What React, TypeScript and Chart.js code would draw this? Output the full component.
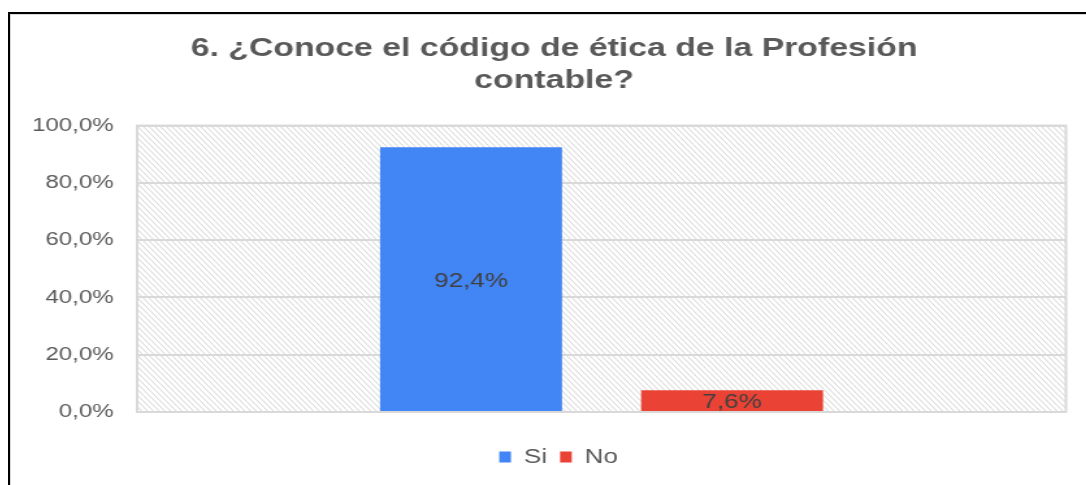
import React, { useEffect, useRef } from "react";
import { Chart, registerables } from "chart.js";

Chart.register(...registerables);

// ---- data ----
const categories = ["Profesión contable"];
const seriesNames = ["Si", "No"];
const siValues = [92.4];
const noValues = [7.6];
const seriesColors = ["#4285F4", "#EA4335"];
const yTickValues = [0, 20, 40, 60, 80, 100];
const titleLines = ["6. ¿Conoce el código de ética de la Profesión", "contable?"];

// ---- layout constants ----
const SX = 1.3; // horizontal stretch of the reference picture
const W = 837;
const H = 470;
const FONT = "'Liberation Sans', Arial, sans-serif";
const TITLE_SHIFT = 3.5;
const LEGEND_SHIFT = 7;

const fmt = (v: number) => v.toFixed(1).replace(".", ",") + "%";

const backgroundPlugin = {
  id: "hatchBackground",
  afterLayout(chart: any) {
    const t = chart.titleBlock;
    if (t) {
      t.left += TITLE_SHIFT;
      t.right += TITLE_SHIFT;
    }
    const l = chart.legend;
    if (l) {
      l.left += LEGEND_SHIFT;
      l.right += LEGEND_SHIFT;
    }
  },
  beforeDraw(chart: any) {
    const { ctx, chartArea: a } = chart;
    if (!a) return;
    const w = a.right - a.left;
    const h = a.bottom - a.top;
    ctx.save();
    ctx.fillStyle = "#ffffff";
    ctx.fillRect(a.left, a.top, w, h);
    ctx.beginPath();
    ctx.rect(a.left, a.top, w, h);
    ctx.clip();
    ctx.beginPath();
    ctx.strokeStyle = "#d6d6d6";
    ctx.lineWidth = 1;
    const dx = h / SX;
    for (let x = a.left - dx; x < a.right + 5; x += 4.4) {
      ctx.moveTo(x, a.top);
      ctx.lineTo(x + dx, a.bottom);
    }
    ctx.stroke();
    ctx.restore();
    ctx.save();
    ctx.strokeStyle = "#d9d9d9";
    ctx.lineWidth = 2;
    ctx.strokeRect(a.left, a.top, w, h);
    ctx.restore();
  },
};

const labelPlugin = {
  id: "barValueLabels",
  afterDatasetsDraw(chart: any) {
    const { ctx } = chart;
    ctx.save();
    ctx.font = `20px ${FONT}`;
    ctx.fillStyle = "#404040";
    ctx.textAlign = "center";
    ctx.textBaseline = "middle";
    chart.data.datasets.forEach((ds: any, i: number) => {
      const meta = chart.getDatasetMeta(i);
      meta.data.forEach((el: any, j: number) => {
        const v = ds.data[j];
        const y = (el.y + el.base) / 2;
        ctx.fillText(fmt(v), el.x, y + 2);
      });
    });
    ctx.restore();
  },
};

export default function App() {
  const ref = useRef<HTMLCanvasElement | null>(null);

  useEffect(() => {
    if (!ref.current) return;
    const chart = new Chart(ref.current, {
      type: "bar",
      data: {
        labels: categories,
        datasets: [
          {
            label: seriesNames[0],
            data: siValues,
            backgroundColor: seriesColors[0],
            categoryPercentage: 0.562,
            barPercentage: 0.697,
          },
          {
            label: seriesNames[1],
            data: noValues,
            backgroundColor: seriesColors[1],
            categoryPercentage: 0.562,
            barPercentage: 0.697,
          },
        ],
      },
      options: {
        animation: false,
        responsive: false,
        layout: { padding: { left: 17, right: 25.5, top: 0, bottom: 8 } },
        scales: {
          x: {
            display: true,
            ticks: { display: false },
            grid: { display: false, drawTicks: false },
            border: { display: false },
            afterFit: (s: any) => {
              s.height = 25;
            },
          },
          y: {
            min: 0,
            max: 100,
            afterBuildTicks: (s: any) => {
              s.ticks = yTickValues.map((v) => ({ value: v }));
            },
            ticks: {
              callback: (v: any) => fmt(Number(v)),
              color: "#595959",
              font: { size: 18.5, family: FONT },
              padding: 18,
            },
            grid: { color: "#d9d9d9", lineWidth: 2, drawTicks: false },
            border: { display: false },
            afterFit: (s: any) => {
              s.width = 80;
            },
          },
        },
        plugins: {
          title: {
            display: true,
            text: titleLines,
            color: "#595959",
            font: { size: 26, weight: "bold", family: FONT, lineHeight: 1.26 },
            padding: { top: 17, bottom: 28 },
          },
          legend: {
            position: "bottom",
            labels: {
              boxWidth: 9,
              boxHeight: 11,
              color: "#595959",
              font: { size: 20, family: FONT },
              padding: 10,
            },
          },
          tooltip: { enabled: false },
        },
      },
      plugins: [backgroundPlugin, labelPlugin],
    } as any);
    return () => chart.destroy();
  }, []);

  return (
    <div
      style={{
        position: "fixed",
        left: 8,
        top: 12,
        right: 0,
        bottom: 0,
        borderLeft: "2px solid #000",
        borderTop: "2px solid #000",
        overflow: "hidden",
        background: "#fff",
      }}
    >
      <div
        style={{
          position: "absolute",
          left: 0,
          top: 0,
          right: 0,
          bottom: 0,
          borderLeft: "1px solid #d9d9d9",
          borderTop: "1px solid #d9d9d9",
        }}
      >
        <div
          style={{
            position: "absolute",
            left: 0,
            top: 0,
            width: W,
            height: H,
            transform: `scaleX(${SX})`,
            transformOrigin: "0 0",
          }}
        >
          <canvas ref={ref} width={W} height={H} style={{ width: W, height: H, display: "block" }} />
        </div>
      </div>
    </div>
  );
}
